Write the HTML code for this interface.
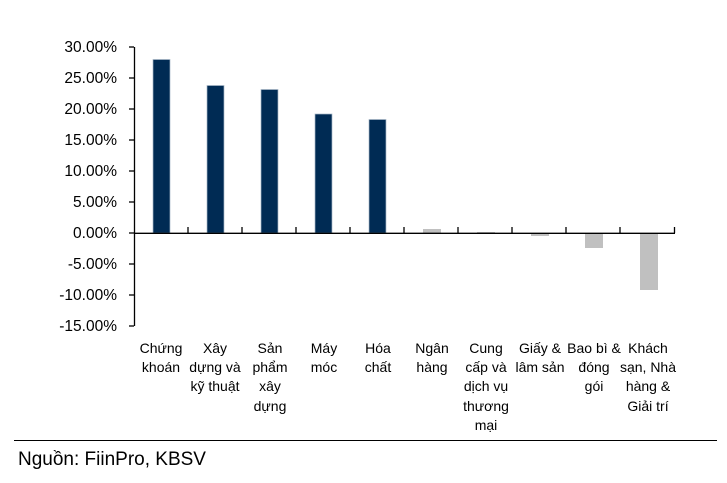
<!DOCTYPE html>
<html><head><meta charset="utf-8"><style>
body{margin:0;background:#fff;width:727px;height:478px;overflow:hidden}
text{font-family:"Liberation Sans","DejaVu Sans",sans-serif}
</style></head><body>
<svg width="727" height="478" xmlns="http://www.w3.org/2000/svg">
<g font-size="15.5" fill="#000" text-anchor="end">
<text x="117" y="52">30.00%</text>
<text x="117" y="83">25.00%</text>
<text x="117" y="114">20.00%</text>
<text x="117" y="145">15.00%</text>
<text x="117" y="176">10.00%</text>
<text x="117" y="207">5.00%</text>
<text x="117" y="238">0.00%</text>
<text x="117" y="269">-5.00%</text>
<text x="117" y="300">-10.00%</text>
<text x="117" y="331">-15.00%</text>
</g>
<g stroke="#000" stroke-width="1.3">
<line x1="134.5" y1="47" x2="134.5" y2="326"/>
<g>
<line x1="129" y1="47" x2="134" y2="47"/><line x1="129" y1="78" x2="134" y2="78"/>
<line x1="129" y1="109" x2="134" y2="109"/><line x1="129" y1="140" x2="134" y2="140"/>
<line x1="129" y1="171" x2="134" y2="171"/><line x1="129" y1="202" x2="134" y2="202"/>
<line x1="129" y1="233" x2="134" y2="233"/><line x1="129" y1="264" x2="134" y2="264"/>
<line x1="129" y1="295" x2="134" y2="295"/><line x1="129" y1="326" x2="134" y2="326"/>
</g>
</g>
<g fill="#002b54" stroke="#a9b8c8" stroke-width="0.7">
<rect x="153" y="59.5" width="17" height="173.5"/>
<rect x="207" y="85.5" width="17" height="147.5"/>
<rect x="261" y="89.5" width="17" height="143.5"/>
<rect x="315" y="114" width="17" height="119"/>
<rect x="369" y="119.5" width="17" height="113.5"/>
</g>
<g fill="#c0c0c0">
<rect x="423" y="229" width="18" height="4"/>
<rect x="477" y="232" width="18" height="1"/>
<rect x="531" y="233" width="18" height="3"/>
<rect x="585" y="233" width="18" height="15"/>
<rect x="640" y="233" width="18" height="57"/>
</g>
<g stroke="#000" stroke-width="1.3">
<line x1="134" y1="233.3" x2="675" y2="233.3"/>
<line x1="188" y1="227" x2="188" y2="233"/><line x1="242" y1="227" x2="242" y2="233"/>
<line x1="296" y1="227" x2="296" y2="233"/><line x1="350" y1="227" x2="350" y2="233"/>
<line x1="404" y1="227" x2="404" y2="233"/><line x1="458" y1="227" x2="458" y2="233"/>
<line x1="512" y1="227" x2="512" y2="233"/><line x1="566" y1="227" x2="566" y2="233"/>
<line x1="620" y1="227" x2="620" y2="233"/><line x1="674.5" y1="227" x2="674.5" y2="233"/>
</g>
<g font-size="14" fill="#000" text-anchor="middle">
<text x="161" y="353">Chứng</text><text x="161" y="372">khoán</text>
<text x="215" y="353">Xây</text><text x="215" y="372">dựng và</text><text x="215" y="391">kỹ thuật</text>
<text x="270" y="353">Sản</text><text x="270" y="372">phẩm</text><text x="270" y="391">xây</text><text x="270" y="411">dựng</text>
<text x="324" y="353">Máy</text><text x="324" y="372">móc</text>
<text x="378" y="353">Hóa</text><text x="378" y="372">chất</text>
<text x="432" y="353">Ngân</text><text x="432" y="372">hàng</text>
<text x="486" y="353">Cung</text><text x="486" y="372">cấp và</text><text x="486" y="391">dịch vụ</text><text x="486" y="411">thương</text><text x="486" y="430">mại</text>
<text x="540" y="353">Giấy &amp;</text><text x="540" y="372">lâm sản</text>
<text x="594" y="353">Bao bì &amp;</text><text x="594" y="372">đóng</text><text x="594" y="391">gói</text>
<text x="648" y="353">Khách</text><text x="648" y="372">sạn, Nhà</text><text x="648" y="391">hàng &amp;</text><text x="648" y="411">Giải trí</text>
</g>
<line x1="14" y1="440.5" x2="717" y2="440.5" stroke="#000" stroke-width="1"/>
<text x="18" y="465" font-size="19" fill="#000">Nguồn: FiinPro, KBSV</text>
</svg>
</body></html>
